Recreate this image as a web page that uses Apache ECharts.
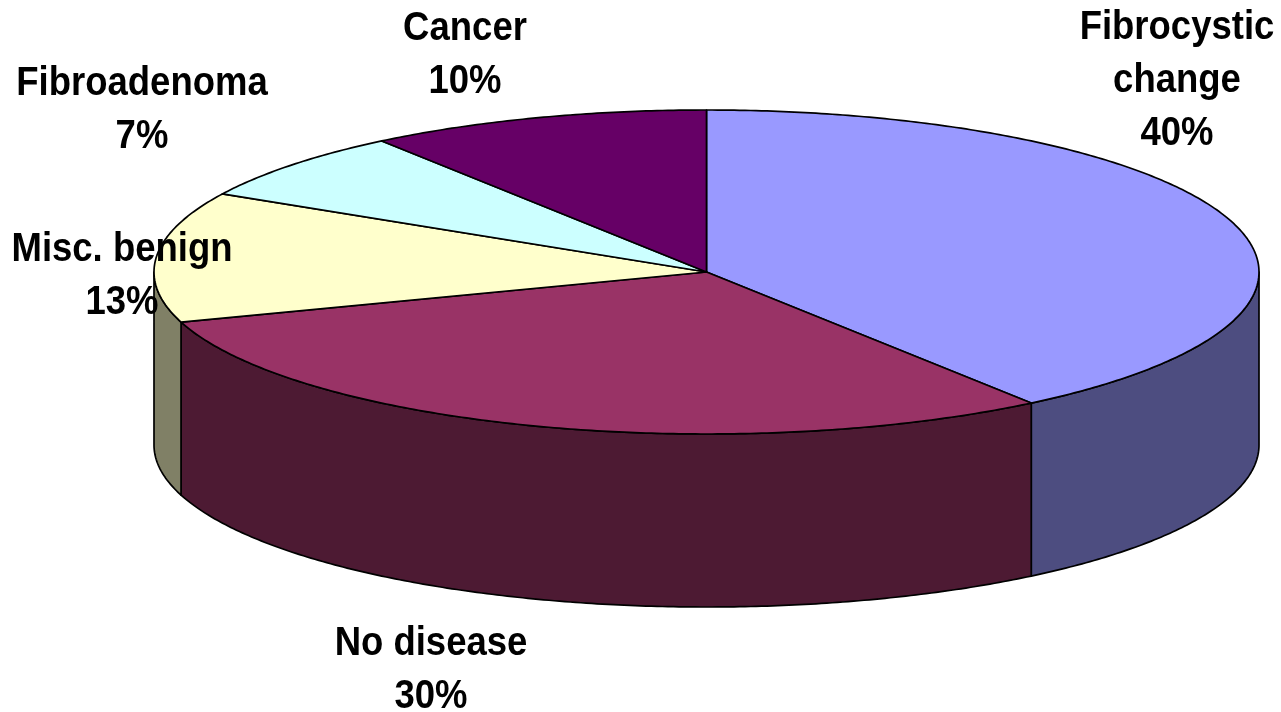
<!DOCTYPE html>
<html>
<head>
<meta charset="utf-8">
<title>Breast biopsy findings</title>
<script src="https://cdn.jsdelivr.net/npm/echarts@6/dist/echarts.min.js"></script>
<style>
  html, body { margin: 0; padding: 0; background: #fff; overflow: hidden; }
  #chart { width: 1281px; height: 712px; }
</style>
</head>
<body>
<div id="chart"></div>
<script>
// Slices run clockwise from twelve o'clock.
const categories = ['Fibrocystic\nchange', 'No disease', 'Misc. benign', 'Fibroadenoma', 'Cancer'];
const percentages = [40, 30, 13, 7, 10];
const topColors = ['#9999FF', '#993366', '#FFFFCC', '#CCFFFF', '#660066'];
const wallColors = ['#4D4D80', '#4D1A33', '#808066', '#668080', '#330033'];
const labelCenters = [[1177, 81], [431, 670], [122, 276], [142, 110], [465, 55]];

// Disc geometry: an ellipse standing on a wall of fixed depth.
const disc = { cx: 706.5, cy: 272, rx: 552.5, ry: 162, depth: 173 };
const labelFont = { size: 36.5, stretch: 1.12, lineHeight: 47.3 };
const QUARTER = Math.PI / 2;
const total = percentages.reduce((a, b) => a + b, 0);

// Map a running percentage onto the angle around the disc.
const toAngle = (v) => echarts.number.linearMap(v, [0, total], [0, 2 * Math.PI]);

const rimPoint = (t, drop) => [
  disc.cx + disc.rx * Math.sin(t),
  disc.cy - disc.ry * Math.cos(t) + drop
];

function arc(a, b, drop) {
  const steps = Math.max(2, Math.ceil((b - a) / 0.01));
  const pts = [];
  for (let i = 0; i <= steps; i++) pts.push(rimPoint(a + (b - a) * i / steps, drop));
  return pts;
}

const edge = { stroke: '#000', lineWidth: 1.7, lineJoin: 'round' };

function renderSlice(params, api) {
  const i = params.dataIndex;
  const before = percentages.slice(0, i).reduce((a, b) => a + b, 0);
  const a = toAngle(before);
  const b = toAngle(before + api.value(0));
  const children = [];

  // Only the front half of the rim shows a wall.
  const wa = Math.max(a, QUARTER);
  const wb = Math.min(b, 3 * QUARTER);
  if (wb > wa) {
    children.push({
      type: 'polygon',
      z2: 1,
      shape: { points: arc(wa, wb, 0).concat(arc(wa, wb, disc.depth).reverse()) },
      style: Object.assign({ fill: wallColors[i] }, edge)
    });
  }

  children.push({
    type: 'polygon',
    z2: 2,
    shape: { points: [[disc.cx, disc.cy]].concat(arc(a, b, 0)) },
    style: Object.assign({ fill: topColors[i] }, edge)
  });

  children.push({
    type: 'text',
    z2: 3,
    x: labelCenters[i][0],
    y: labelCenters[i][1],
    scaleY: labelFont.stretch,
    style: {
      text: categories[i] + '\n' + api.value(0) + '%',
      fill: '#000',
      align: 'center',
      verticalAlign: 'middle',
      fontFamily: '"Liberation Sans", Arial, sans-serif',
      fontWeight: 'bold',
      fontSize: labelFont.size,
      lineHeight: labelFont.lineHeight
    }
  });

  return { type: 'group', children };
}

const chart = echarts.init(document.getElementById('chart'), null, { renderer: 'canvas' });
chart.setOption({
  animation: false,
  backgroundColor: '#fff',
  series: [{
    type: 'custom',
    coordinateSystem: 'none',
    renderItem: renderSlice,
    data: percentages.map((v) => [v])
  }]
});
</script>
</body>
</html>
